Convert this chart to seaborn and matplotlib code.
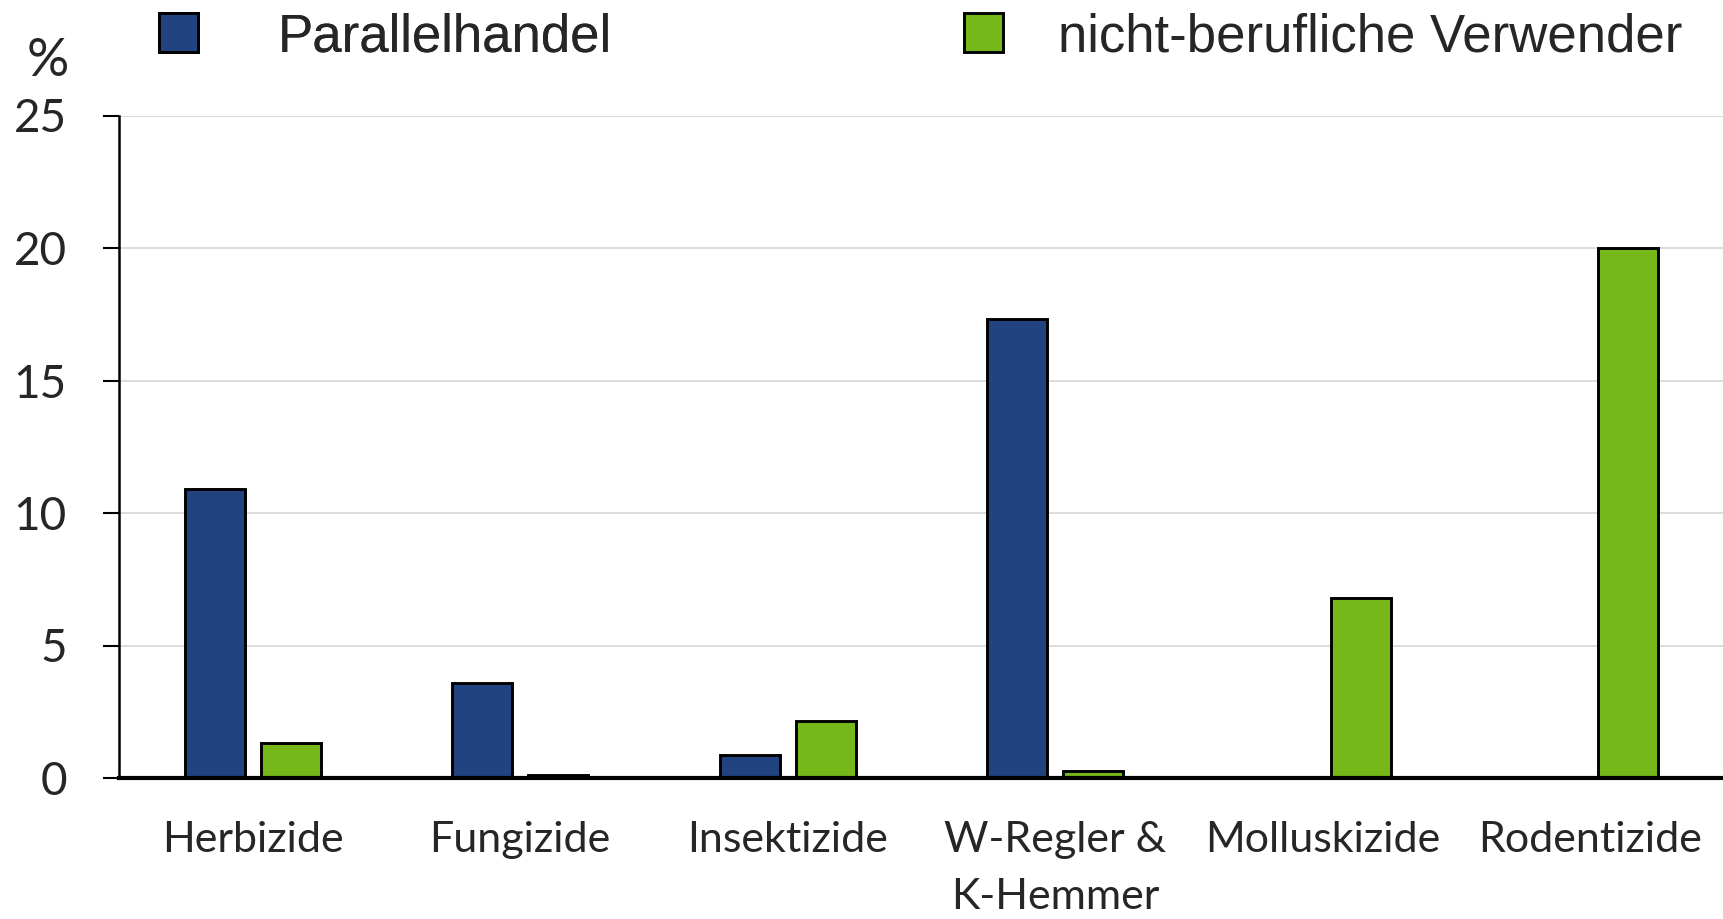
import matplotlib
matplotlib.use('Agg')
import numpy as np
import pandas as pd
import matplotlib.pyplot as plt
import seaborn as sns

# Values (percent)
categories = ['Herbizide', 'Fungizide', 'Insektizide', 'W-Regler &\nK-Hemmer',
              'Molluskizide', 'Rodentizide']
parallelhandel = [10.9, 3.6, 0.87, 17.33, np.nan, np.nan]
nicht_beruflich = [1.33, 0.12, 2.15, 0.25, 6.8, 20.0]
series_names = ['Parallelhandel', 'nicht-berufliche Verwender']
yticks = [0, 5, 10, 15, 20, 25]

colors = ['#21437f', '#76b81a']

df = pd.DataFrame({
    'kategorie': categories * 2,
    'wert': parallelhandel + nicht_beruflich,
    'reihe': [series_names[0]] * len(categories) + [series_names[1]] * len(categories),
})

sns.set_theme(style='white')
plt.rcParams['font.family'] = ['Lato', 'DejaVu Sans']

fig = plt.figure(figsize=(17.24, 9.19), dpi=100)
ax = fig.add_axes([119 / 1724, 1 - 778 / 919, 1 - 119 / 1724, (778 - 115.5) / 919])

sns.barplot(data=df, x='kategorie', y='wert', hue='reihe', hue_order=series_names,
            order=categories, palette=colors, width=0.57, gap=0.21, errorbar=None,
            edgecolor='black', linewidth=2.1, saturation=1, ax=ax, zorder=3)

ax.set_xlim(-0.5, len(categories) - 0.5)
ax.set_ylim(0, 25)
ax.set_yticks(yticks)
ax.yaxis.grid(True, color='#d9d9d9', linewidth=1.3, zorder=0)
ax.set_axisbelow(True)
ax.set_xlabel('')
ax.set_ylabel('')

for side in ['top', 'right']:
    ax.spines[side].set_visible(False)
ax.spines['left'].set_color('black')
ax.spines['left'].set_linewidth(1.8)
ax.spines['bottom'].set_color('black')
ax.spines['bottom'].set_linewidth(3.0)
ax.spines['bottom'].set_zorder(5)

ax.tick_params(axis='y', direction='out', length=11.5, width=1.5, color='black',
               pad=26, labelsize=33, left=True)
ax.tick_params(axis='x', length=0, pad=31, labelsize=31)
for lbl in ax.get_xticklabels():
    lbl.set_linespacing(1.6)

# legend on top, one entry per series so each gap can match
handles = ax.legend_.legend_handles
ax.legend_.remove()
leg_kw = dict(loc='upper left', frameon=False,
              prop={'family': 'Liberation Sans', 'size': 38},
              handlelength=0.74, handleheight=0.74,
              borderpad=0, borderaxespad=0)
leg1 = fig.legend(handles[:1], series_names[:1], bbox_to_anchor=(159 / 1724, 1 - 12 / 919),
                  handletextpad=1.5, **leg_kw)
fig.add_artist(leg1)
fig.legend(handles[1:], series_names[1:], bbox_to_anchor=(964 / 1724, 1 - 12 / 919),
           handletextpad=1.05, **leg_kw)

fig.text(27 / 1724, 1 - 38 / 919, '%', fontsize=38, ha='left', va='top')

fig.savefig('out.png', dpi=100)
